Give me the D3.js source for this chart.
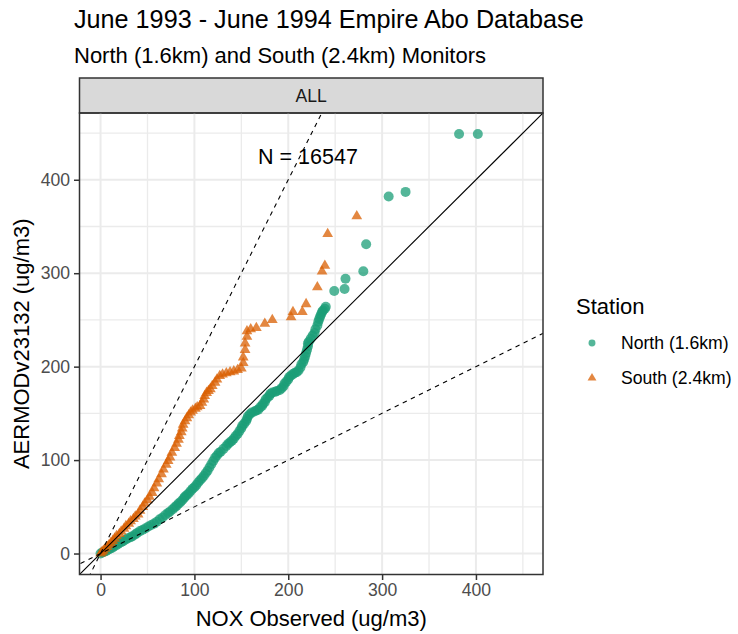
<!DOCTYPE html>
<html>
<head>
<meta charset="utf-8">
<script src="https://d3js.org/d3.v7.min.js"></script>
<style>
    body{ margin:0; background:#fff; }
    text{ font-family:"Liberation Sans", Arial, sans-serif; }
    .grid-major{ stroke:#ebebeb; stroke-width:2; }
    .grid-minor{ stroke:#ebebeb; stroke-width:1.3; }
    .axis text{ fill:#4d4d4d; font-size:17.6px; font-family:"Liberation Sans", Arial, sans-serif; }
    .axis line{ stroke:#333; stroke-width:1.5; }
    .axis path{ display:none; }
</style>
</head>
<body>
<div id="container"></div>
<script>
// tick marks on both axes
var tickVals = [0, 100, 200, 300, 400];
var minorVals = [50, 150, 250, 350, 450];

var stations = ["North (1.6km)", "South (2.4km)"];
var colors = ["#1b9e77", "#d95f02"];

// quantile pairs (observed, modelled)
var northObs = [0, 2, 4, 6, 8, 10, 12, 14, 17, 19, 22, 24, 27, 29, 32, 34, 37, 39, 42, 45, 48, 51, 54, 57, 60, 63, 66, 69, 72, 74, 77, 79, 81, 83, 85, 87, 89, 90, 92, 94, 96, 98, 100, 102, 104, 106, 108, 110, 112, 114, 116, 118, 120, 122, 124, 126, 128, 131, 134, 136, 138, 140, 142, 144, 146, 148, 150, 151, 153, 155, 156, 157, 159, 161, 164, 166, 168, 170, 172, 173, 175, 176, 178, 180, 181, 183, 186, 188, 191, 193, 195, 196, 198, 200, 201, 203, 205, 207, 209, 211, 213, 214, 216, 217, 218, 219, 220, 221, 221, 222, 224, 226, 228, 229, 231, 232, 233, 234, 235, 236, 237, 239, 240,
    249, 260, 261, 280, 283, 307, 325, 382, 402];
var northMod = [0, 1.2, 2, 2.8, 4, 5.2, 6, 7.4, 9, 10.6, 12, 13.2, 15, 16.4, 17.5, 18.6, 20.5, 22, 24, 25.4, 27, 29, 30.5, 32, 34, 36.6, 38.5, 41.2, 43.5, 45, 47.5, 49.5, 51, 53.4, 55, 57, 59.5, 61, 62.5, 64.5, 67, 69.4, 71, 73.2, 76, 78.5, 80.5, 83, 86, 88.5, 92, 95.6, 99, 102.4, 105, 107.5, 109, 112, 115, 117.5, 119, 120.6, 123, 125.8, 128, 131, 134, 136.8, 139, 141.5, 144, 146.8, 149, 151, 152, 153.2, 154, 156.4, 158, 160, 162, 165, 167, 169, 171, 172.4, 173, 174, 175, 177, 179, 182, 184, 186.4, 189, 190.6, 192, 193.4, 194, 196, 199, 202.6, 205, 208, 211, 214.6, 218, 221.8, 225, 227, 230, 233.4, 236, 240, 244, 248, 251, 253.6, 256, 258.4, 260, 262, 264,
    281, 283, 294, 302, 331, 382, 387, 449, 449];

var southObs = [0, 1.5, 3, 5, 7, 9, 11, 13, 15, 17, 20, 22, 25, 27, 30, 32, 35, 37, 40, 42, 45, 47, 50, 52, 55, 57, 60, 62, 65, 67, 70, 72, 74, 76, 79, 81, 83, 84, 86, 87, 88, 90, 92, 94, 96, 98, 101, 103, 106, 108, 110, 111, 113, 115, 117, 119, 122, 124, 127, 130, 134, 138, 142, 146, 150,
    152, 152, 154, 154, 156, 156, 160, 166, 175, 183, 203, 205, 215, 219, 231, 236, 239, 242, 273];
var southMod = [0, 1.6, 3, 5.2, 7, 9.2, 11.5, 13.6, 16, 18.8, 21, 23.6, 26.5, 29.4, 32, 34.6, 37, 39.6, 42, 46, 50, 53.6, 57, 61, 65, 70, 75, 79.6, 85, 90, 95, 99, 103, 108, 113, 117.6, 122, 126, 130, 134, 138, 141.6, 145, 148, 151, 153, 155, 156.6, 158, 161.4, 165, 168.6, 172, 174, 176, 179.4, 183, 186.4, 190, 191.6, 193, 194, 195, 196.4, 198,
    204, 210, 218, 225, 232, 238, 240, 241.5, 246, 250, 253, 258.5, 258.5, 267, 285, 302, 308, 342, 361];

var nLabel = "N = 16547";

var W = 738, H = 634;
var pLeft = 79.5, pRight = 543, pTop = 113, pBottom = 574.5, stripTop = 78;

var svg = d3.select("#container").append("svg")
    .attr("width", W).attr("height", H);

var x = d3.scaleLinear().domain([-22.45, 471.45]).range([pLeft, pRight]);
var y = d3.scaleLinear().domain([-22.45, 471.45]).range([pBottom, pTop]);

// titles
svg.append("text").attr("x", 74).attr("y", 28)
    .style("font-size", "25.2px").attr("fill", "#000")
    .text("June 1993 - June 1994 Empire Abo Database");
svg.append("text").attr("x", 74).attr("y", 63)
    .style("font-size", "22px").attr("fill", "#000")
    .text("North (1.6km) and South (2.4km) Monitors");

// facet strip
svg.append("rect").attr("x", pLeft).attr("y", stripTop)
    .attr("width", pRight - pLeft).attr("height", pTop - stripTop)
    .attr("fill", "#d9d9d9").attr("stroke", "#333").attr("stroke-width", 1.5);
svg.append("text").attr("x", (pLeft + pRight) / 2).attr("y", (stripTop + pTop) / 2)
    .attr("text-anchor", "middle").attr("dominant-baseline", "central")
    .style("font-size", "17.6px").attr("fill", "#1a1a1a")
    .text("ALL");

// grid
var g = svg.append("g");
g.selectAll(".vmin").data(minorVals).enter().append("line")
    .attr("class", "grid-minor")
    .attr("x1", function(d){ return x(d); }).attr("x2", function(d){ return x(d); })
    .attr("y1", pTop).attr("y2", pBottom);
g.selectAll(".hmin").data(minorVals).enter().append("line")
    .attr("class", "grid-minor")
    .attr("y1", function(d){ return y(d); }).attr("y2", function(d){ return y(d); })
    .attr("x1", pLeft).attr("x2", pRight);
g.selectAll(".vmaj").data(tickVals).enter().append("line")
    .attr("class", "grid-major")
    .attr("x1", function(d){ return x(d); }).attr("x2", function(d){ return x(d); })
    .attr("y1", pTop).attr("y2", pBottom);
g.selectAll(".hmaj").data(tickVals).enter().append("line")
    .attr("class", "grid-major")
    .attr("y1", function(d){ return y(d); }).attr("y2", function(d){ return y(d); })
    .attr("x1", pLeft).attr("x2", pRight);

svg.append("clipPath").attr("id", "panel")
    .append("rect").attr("x", pLeft).attr("y", pTop)
    .attr("width", pRight - pLeft).attr("height", pBottom - pTop);

var plot = svg.append("g").attr("clip-path", "url(#panel)");

// points
var north = northObs.map(function(v, i){ return {x: v, y: northMod[i]}; });
var south = southObs.map(function(v, i){ return {x: v, y: southMod[i]}; });

plot.selectAll(".north").data(north).enter().append("circle")
    .attr("class", "north")
    .attr("cx", function(d){ return x(d.x); })
    .attr("cy", function(d){ return y(d.y); })
    .attr("r", 5)
    .attr("fill", colors[0]).attr("fill-opacity", 0.75);

var tri = d3.symbol().type(d3.symbolTriangle).size(50);
plot.selectAll(".south").data(south).enter().append("path")
    .attr("class", "south")
    .attr("d", tri)
    .attr("transform", function(d){ return "translate(" + x(d.x) + "," + y(d.y) + ")"; })
    .attr("fill", colors[1]).attr("fill-opacity", 0.75);

// 1:1 and factor-of-two lines
var refLines = [{slope: 1, dash: null}, {slope: 2, dash: "4.5,4.5"}, {slope: 0.5, dash: "4.5,4.5"}];
plot.selectAll(".ref").data(refLines).enter().append("line")
    .attr("class", "ref")
    .attr("x1", x(-30)).attr("y1", function(d){ return y(-30 * d.slope); })
    .attr("x2", x(500)).attr("y2", function(d){ return y(500 * d.slope); })
    .attr("stroke", "#000").attr("stroke-width", 1.1)
    .attr("stroke-dasharray", function(d){ return d.dash; });

svg.append("text").attr("x", x(221)).attr("y", y(424.5))
    .attr("text-anchor", "middle").attr("dominant-baseline", "central")
    .style("font-size", "21.5px").attr("fill", "#000")
    .text(nLabel);

// panel border
svg.append("rect").attr("x", pLeft).attr("y", pTop)
    .attr("width", pRight - pLeft).attr("height", pBottom - pTop)
    .attr("fill", "none").attr("stroke", "#333").attr("stroke-width", 1.5);

// axes
svg.append("g").attr("class", "axis")
    .attr("transform", "translate(0," + pBottom + ")")
    .call(d3.axisBottom(x).tickValues(tickVals).tickSize(5.5).tickPadding(4));
svg.append("g").attr("class", "axis")
    .attr("transform", "translate(" + pLeft + ",0)")
    .call(d3.axisLeft(y).tickValues(tickVals).tickSize(5.5).tickPadding(4));

svg.append("text").attr("x", (pLeft + pRight) / 2).attr("y", 626)
    .attr("text-anchor", "middle")
    .style("font-size", "22px").attr("fill", "#000")
    .text("NOX Observed (ug/m3)");
svg.append("text")
    .attr("transform", "translate(29," + (pTop + pBottom) / 2 + ") rotate(-90)")
    .attr("text-anchor", "middle")
    .style("font-size", "22px").attr("fill", "#000")
    .text("AERMODv23132 (ug/m3)");

// legend
svg.append("text").attr("x", 576).attr("y", 314)
    .style("font-size", "22px").attr("fill", "#000")
    .text("Station");
var leg = svg.selectAll(".leg").data(stations).enter().append("g")
    .attr("class", "leg")
    .attr("transform", function(d, i){ return "translate(592," + (343 + i * 35) + ")"; });
leg.append("path")
    .attr("d", function(d, i){
        return i == 0 ? d3.symbol().type(d3.symbolCircle).size(38)() : d3.symbol().type(d3.symbolTriangle).size(34)();
    })
    .attr("fill", function(d, i){ return colors[i]; })
    .attr("fill-opacity", 0.75);
leg.append("text").attr("x", 29).attr("dominant-baseline", "central")
    .style("font-size", "17.6px").attr("fill", "#000")
    .text(function(d){ return d; });
</script>
</body>
</html>
